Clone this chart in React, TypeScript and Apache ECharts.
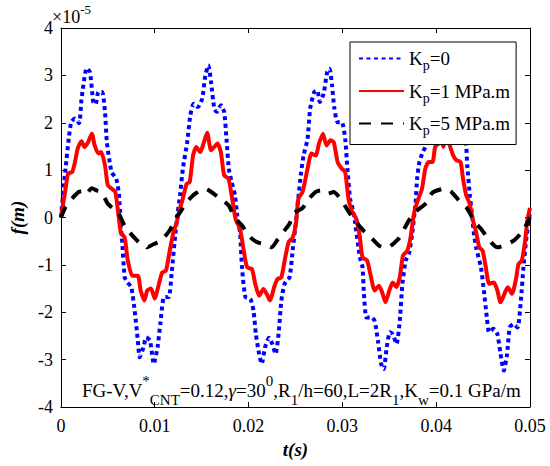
import React, { useEffect, useRef } from "react";
import * as echarts from "echarts";

// x ticks (s) and y ticks (×10^-5 m)
const xTicks = [0, 0.01, 0.02, 0.03, 0.04, 0.05];
const yTicks = [-4, -3, -2, -1, 0, 1, 2, 3, 4];
const seriesNames = ["Kp=0", "Kp=1 MPa.m", "Kp=5 MPa.m"];
const seriesColors = ["#0000ff", "#ff0000", "#000000"];

// Kp = 0 : [t (s), f (×1e-5 m)]
const kp0: [number, number][] = [
  [0, 0], [0.0005, 1.04], [0.00084, 1.67], [0.0011, 2.01], [0.0015, 2.09], [0.00195, 1.99],
  [0.0022, 2.5], [0.00275, 3.15], [0.0031, 3.07], [0.00345, 2.44], [0.0037, 2.39], [0.004, 2.65],
  [0.0044, 2.65], [0.0047, 2.23], [0.0049, 1.59], [0.0054, 0.96], [0.0059, 0.82], [0.0062, 0.47],
  [0.00635, -0.1], [0.0065, -0.42], [0.0068, -1.26], [0.0071, -1.37], [0.0075, -1.47], [0.0079, -2.03],
  [0.0082, -2.6], [0.0084, -2.95], [0.0088, -2.74], [0.0091, -2.53], [0.0095, -2.6], [0.0099, -3.09],
  [0.0103, -2.74], [0.0106, -2.24], [0.011, -1.68], [0.0115, -1.68], [0.0118, -1.18], [0.0122, -0.34],
  [0.01245, 0.1], [0.0127, 0.47], [0.013, 1.03], [0.01346, 1.59], [0.0138, 2.16], [0.01415, 2.4],
  [0.0146, 2.33], [0.01506, 2.51], [0.0154, 3.0], [0.01572, 3.21], [0.016, 2.86], [0.01635, 2.3],
  [0.0166, 2.23], [0.01705, 2.37], [0.0174, 2.23], [0.01765, 1.66], [0.0179, 1.03], [0.0182, 0.75],
  [0.01855, 0.47], [0.0188, 0.04], [0.0191, -0.33], [0.0193, -1.05], [0.01967, -1.68], [0.0202, -1.72],
  [0.02053, -1.97], [0.02078, -2.46], [0.02106, -2.81], [0.0214, -3.09], [0.02176, -2.74], [0.02218, -2.54],
  [0.02253, -2.67], [0.02288, -2.88], [0.0232, -2.46], [0.0235, -1.75], [0.02385, -1.4], [0.02437, -1.26],
  [0.0247, -0.7], [0.02507, -0.06], [0.0253, 0.4], [0.0256, 0.95], [0.02587, 1.31], [0.02629, 1.66],
  [0.02657, 2.3], [0.027, 2.65], [0.02733, 2.68], [0.0276, 2.44], [0.028, 2.61], [0.02838, 3.07],
  [0.02863, 3.14], [0.0289, 2.79], [0.02915, 2.3], [0.0295, 2.01], [0.02995, 2.01], [0.0303, 1.66],
  [0.03054, 1.03], [0.03082, 0.4], [0.0311, 0.18], [0.03135, -0.1], [0.03187, -0.84], [0.03215, -1.05],
  [0.0323, -1.61], [0.03257, -2.11], [0.0331, -2.11], [0.03344, -2.18], [0.03379, -2.6], [0.03413, -3.09],
  [0.03441, -3.2], [0.03473, -2.74], [0.03507, -2.42], [0.03536, -2.46], [0.03577, -2.67], [0.03612, -2.18],
  [0.0364, -1.4], [0.03675, -0.91], [0.0371, -0.77], [0.03745, -0.33], [0.0378, 0.3], [0.03797, 0.82],
  [0.03821, 1.17], [0.03857, 1.38], [0.03902, 1.56], [0.0393, 1.95], [0.0397, 2.25], [0.0401, 2.35],
  [0.0405, 2.6], [0.0409, 3.05], [0.0412, 3.1], [0.0415, 2.75], [0.0418, 2.35], [0.0422, 2.4],
  [0.0426, 2.2], [0.043, 1.8], [0.0432, 1.52], [0.04331, 1.1], [0.0436, 0.45], [0.0438, 0.1],
  [0.044, -0.3], [0.04425, -0.63], [0.04477, -1.05], [0.04512, -1.61], [0.0454, -2.11], [0.04564, -2.42],
  [0.0461, -2.35], [0.04652, -2.46], [0.04686, -2.88], [0.04721, -3.23], [0.04756, -2.88], [0.04784, -2.32],
  [0.04826, -2.25], [0.04868, -2.32], [0.04903, -1.75], [0.0493, -1.05], [0.04958, -0.49], [0.04982, -0.13],
  [0.05, 0.1],
];

// Kp = 1 MPa.m
const kp1: [number, number][] = [
  [0, 0], [0.0005, 0.61], [0.00077, 0.93], [0.0012, 0.96], [0.0015, 1.17], [0.0018, 1.46],
  [0.0022, 1.61], [0.0025, 1.49], [0.0029, 1.59], [0.0033, 1.77], [0.0036, 1.52], [0.004, 1.35],
  [0.0043, 1.38], [0.0047, 1.1], [0.005, 0.68], [0.0054, 0.61], [0.0058, 0.54], [0.0061, 0.11],
  [0.0064, -0.33], [0.0068, -0.42], [0.0071, -0.87], [0.0076, -1.23], [0.0082, -1.23], [0.0085, -1.54],
  [0.0089, -1.75], [0.0092, -1.54], [0.0096, -1.5], [0.01, -1.71], [0.0104, -1.44], [0.0108, -1.16],
  [0.0112, -1.12], [0.0116, -0.7], [0.012, -0.31], [0.0123, -0.13], [0.0127, 0.2], [0.013, 0.4],
  [0.0134, 0.71], [0.01373, 0.75], [0.01409, 1.31], [0.01443, 1.49], [0.01485, 1.38], [0.0152, 1.56],
  [0.01559, 1.79], [0.016, 1.42], [0.01635, 1.49], [0.0167, 1.56], [0.01705, 1.38], [0.0174, 0.89],
  [0.01786, 0.82], [0.0182, 0.47], [0.01862, -0.03], [0.0191, -0.25], [0.01949, -0.7], [0.01984, -1.05],
  [0.02037, -1.09], [0.02071, -1.4], [0.02113, -1.65], [0.02158, -1.51], [0.02193, -1.61], [0.02228, -1.75],
  [0.02273, -1.47], [0.02308, -1.3], [0.0235, -1.26], [0.02385, -0.91], [0.02427, -0.52], [0.02472, -0.42],
  [0.02507, -0.1], [0.02531, 0.4], [0.02576, 0.54], [0.02629, 1.03], [0.0267, 1.35], [0.02716, 1.31],
  [0.02751, 1.56], [0.02793, 1.77], [0.02831, 1.52], [0.02873, 1.63], [0.02908, 1.59], [0.0295, 1.17],
  [0.02995, 1.03], [0.0303, 0.96], [0.03065, 0.4], [0.031, 0.15], [0.03152, -0.05], [0.03187, -0.42],
  [0.03215, -0.84], [0.03264, -0.91], [0.03298, -1.19], [0.03344, -1.54], [0.03389, -1.44], [0.03424, -1.58],
  [0.03459, -1.79], [0.03501, -1.54], [0.03536, -1.37], [0.03577, -1.47], [0.03612, -1.26], [0.03647, -0.8],
  [0.03692, -0.7], [0.03727, -0.42], [0.03763, 0.08], [0.03797, 0.32], [0.03849, 0.61], [0.03884, 1.03],
  [0.03919, 1.17], [0.03961, 1.17], [0.03989, 1.49], [0.04024, 1.56], [0.0405, 1.72], [0.04076, 1.49],
  [0.0411, 1.74], [0.04145, 1.52], [0.04181, 1.31], [0.04215, 1.21], [0.0426, 1.17], [0.04286, 0.82],
  [0.0432, 0.47], [0.04355, 0.3], [0.0439, -0.05], [0.04425, -0.3], [0.04459, -0.63], [0.04495, -0.7],
  [0.04529, -1.05], [0.04564, -1.4], [0.04616, -1.37], [0.04652, -1.54], [0.04686, -1.79], [0.04728, -1.61],
  [0.04763, -1.47], [0.04809, -1.61], [0.04854, -1.26], [0.04878, -0.98], [0.04913, -0.91], [0.04948, -0.49],
  [0.04972, -0.06], [0.05, 0.2],
];

// Kp = 5 MPa.m
const kp5: [number, number][] = [
  [0, 0], [0.0005, 0.22], [0.0012, 0.4], [0.0019, 0.54], [0.0022, 0.55], [0.0026, 0.48],
  [0.0033, 0.62], [0.0038, 0.57], [0.0043, 0.54], [0.005, 0.29], [0.0055, 0.2], [0.0061, 0.1],
  [0.0068, -0.18], [0.0073, -0.31], [0.0083, -0.52], [0.0089, -0.56], [0.0092, -0.63], [0.0099, -0.56],
  [0.0104, -0.52], [0.011, -0.42], [0.0116, -0.27], [0.0123, 0.0], [0.0127, 0.11], [0.0134, 0.32],
  [0.0141, 0.47], [0.0146, 0.54], [0.0153, 0.61], [0.0158, 0.57], [0.0165, 0.47], [0.0174, 0.34],
  [0.0179, 0.25], [0.0186, -0.03], [0.0193, -0.17], [0.0202, -0.42], [0.0209, -0.52], [0.0216, -0.56],
  [0.02246, -0.63], [0.02315, -0.45], [0.02385, -0.27], [0.02437, -0.13], [0.0249, 0.1], [0.02576, 0.2],
  [0.02646, 0.4], [0.02716, 0.54], [0.02768, 0.57], [0.02838, 0.5], [0.02908, 0.54], [0.02978, 0.4],
  [0.03065, 0.13], [0.03117, -0.02], [0.03222, -0.27], [0.03285, -0.38], [0.03389, -0.59], [0.03438, -0.63],
  [0.03483, -0.63], [0.03598, -0.45], [0.0364, -0.31], [0.0371, -0.06], [0.0378, 0.12], [0.03902, 0.32],
  [0.03937, 0.47], [0.03972, 0.54], [0.04093, 0.61], [0.04163, 0.54], [0.04268, 0.3], [0.0432, 0.22],
  [0.04425, -0.13], [0.04477, -0.24], [0.04582, -0.52], [0.04652, -0.63], [0.04756, -0.56], [0.04826, -0.49],
  [0.04895, -0.35], [0.04948, -0.2], [0.05, 0.0],
];

const FONT = "Liberation Serif";

const legendRich: Record<string, string> = {
  "Kp=0": "{k|K}{s|p}{k|=0}",
  "Kp=1 MPa.m": "{k|K}{s|p}{k|=1 MPa.m}",
  "Kp=5 MPa.m": "{k|K}{s|p}{k|=5 MPa.m}",
};

function buildOption() {
  const xMin = xTicks[0];
  const xMax = xTicks[xTicks.length - 1];
  const xInt = xTicks[1] - xTicks[0];
  const yMin = yTicks[0];
  const yMax = yTicks[yTicks.length - 1];
  const yInt = yTicks[1] - yTicks[0];

  const axisLine = { show: true, onZero: false, lineStyle: { color: "#000", width: 1 } };
  const axisTick = { show: true, inside: true, length: 5, lineStyle: { color: "#000", width: 1 } };
  const labelStyle = { color: "#000", fontFamily: FONT, fontSize: 18 };

  const xBase = { type: "value", min: xMin, max: xMax, interval: xInt, splitLine: { show: false }, axisLine, axisTick };
  const yBase = { type: "value", min: yMin, max: yMax, interval: yInt, splitLine: { show: false }, axisLine, axisTick };

  const data = [kp0, kp1, kp5];
  const dashTypes: any[] = [[4, 3.5], "solid", [12, 10]];
  const widths = [4, 4, 4];

  return {
    animation: false,
    backgroundColor: "#fff",
    textStyle: { fontFamily: FONT },
    grid: { left: 52, right: 20, top: 28, bottom: 59, containLabel: false },
    xAxis: [
      {
        ...xBase,
        position: "bottom",
        axisLabel: {
          ...labelStyle,
          margin: 10,
          formatter: (v: number) => (v === 0 ? "0" : v.toFixed(2)),
        },
        name: "t(s)",
        nameLocation: "middle",
        nameGap: 33,
        nameTextStyle: { fontFamily: FONT, fontSize: 19, fontWeight: "bold", fontStyle: "italic", color: "#000" },
      },
      { ...xBase, position: "top", axisLabel: { show: false } },
    ],
    yAxis: [
      {
        ...yBase,
        position: "left",
        axisLabel: { ...labelStyle, margin: 8, formatter: (v: number) => String(v) },
        name: "f(m)",
        nameLocation: "middle",
        nameGap: 26,
        nameRotate: 90,
        nameTextStyle: { fontFamily: FONT, fontSize: 19, fontWeight: "bold", fontStyle: "italic", color: "#000" },
      },
      { ...yBase, position: "right", axisLabel: { show: false } },
    ],
    legend: {
      orient: "vertical",
      left: 350,
      top: 42,
      padding: [7, 6, 7, 8],
      itemGap: 9,
      itemWidth: 45,
      itemHeight: 14,
      selectedMode: false,
      backgroundColor: "#fff",
      borderColor: "#000",
      borderWidth: 1,
      borderRadius: 0,
      itemStyle: { opacity: 0 },
      data: seriesNames,
      formatter: (name: string) => legendRich[name] || name,
      textStyle: {
        fontFamily: FONT,
        fontSize: 19,
        color: "#000",
        rich: {
          k: { fontFamily: FONT, fontSize: 19, lineHeight: 28, color: "#000" },
          s: { fontFamily: FONT, fontSize: 14, lineHeight: 12, verticalAlign: "bottom", color: "#000" },
        },
      },
    },
    series: seriesNames.map((name, i) => ({
      name,
      type: "line",
      xAxisIndex: 0,
      yAxisIndex: 0,
      data: data[i],
      symbol: "none",
      smooth: 0.2,
      color: seriesColors[i],
      lineStyle: { color: seriesColors[i], width: widths[i], type: dashTypes[i], cap: "butt" },
      z: 2 + i,
    })),
    graphic: [
      {
        type: "text",
        left: 52,
        top: 3,
        style: {
          text: "{a|×10}{b|-5}",
          fill: "#000",
          font: "18px Liberation Serif",
          rich: {
            a: { fontFamily: FONT, fontSize: 18, lineHeight: 28, fill: "#000" },
            b: { fontFamily: FONT, fontSize: 13, lineHeight: 12, verticalAlign: "top", fill: "#000" },
          },
        },
      },
      {
        type: "text",
        left: 82,
        top: 373,
        z: 10,
        style: {
          text:
            "{n|FG-V,V}{p|*}{d|CNT}{n|=0.12,}{g|γ}{n|=30}{p|0}{n|,R}{d|1}{n|/h=60,L=2R}{d|1}{n|,K}{d|w}{n|=0.1 GPa/m}",
          fill: "#000",
          font: "19px Liberation Serif",
          rich: {
            n: { fontFamily: FONT, fontSize: 19, lineHeight: 34, fill: "#000" },
            g: { fontFamily: FONT, fontSize: 19, fontStyle: "italic", lineHeight: 34, fill: "#000" },
            p: { fontFamily: FONT, fontSize: 15, lineHeight: 12, verticalAlign: "top", fill: "#000" },
            d: { fontFamily: FONT, fontSize: 15, lineHeight: 12, verticalAlign: "bottom", fill: "#000" },
          },
        },
      },
    ],
  };
}

export default function App() {
  const ref = useRef<HTMLDivElement>(null);
  useEffect(() => {
    document.body.style.margin = "0";
    if (!ref.current) return;
    const chart = echarts.init(ref.current, null, { renderer: "svg" });
    chart.setOption(buildOption() as any);
    return () => chart.dispose();
  }, []);
  return <div ref={ref} style={{ position: "fixed", left: 0, top: 0, width: 550, height: 466 }} />;
}
